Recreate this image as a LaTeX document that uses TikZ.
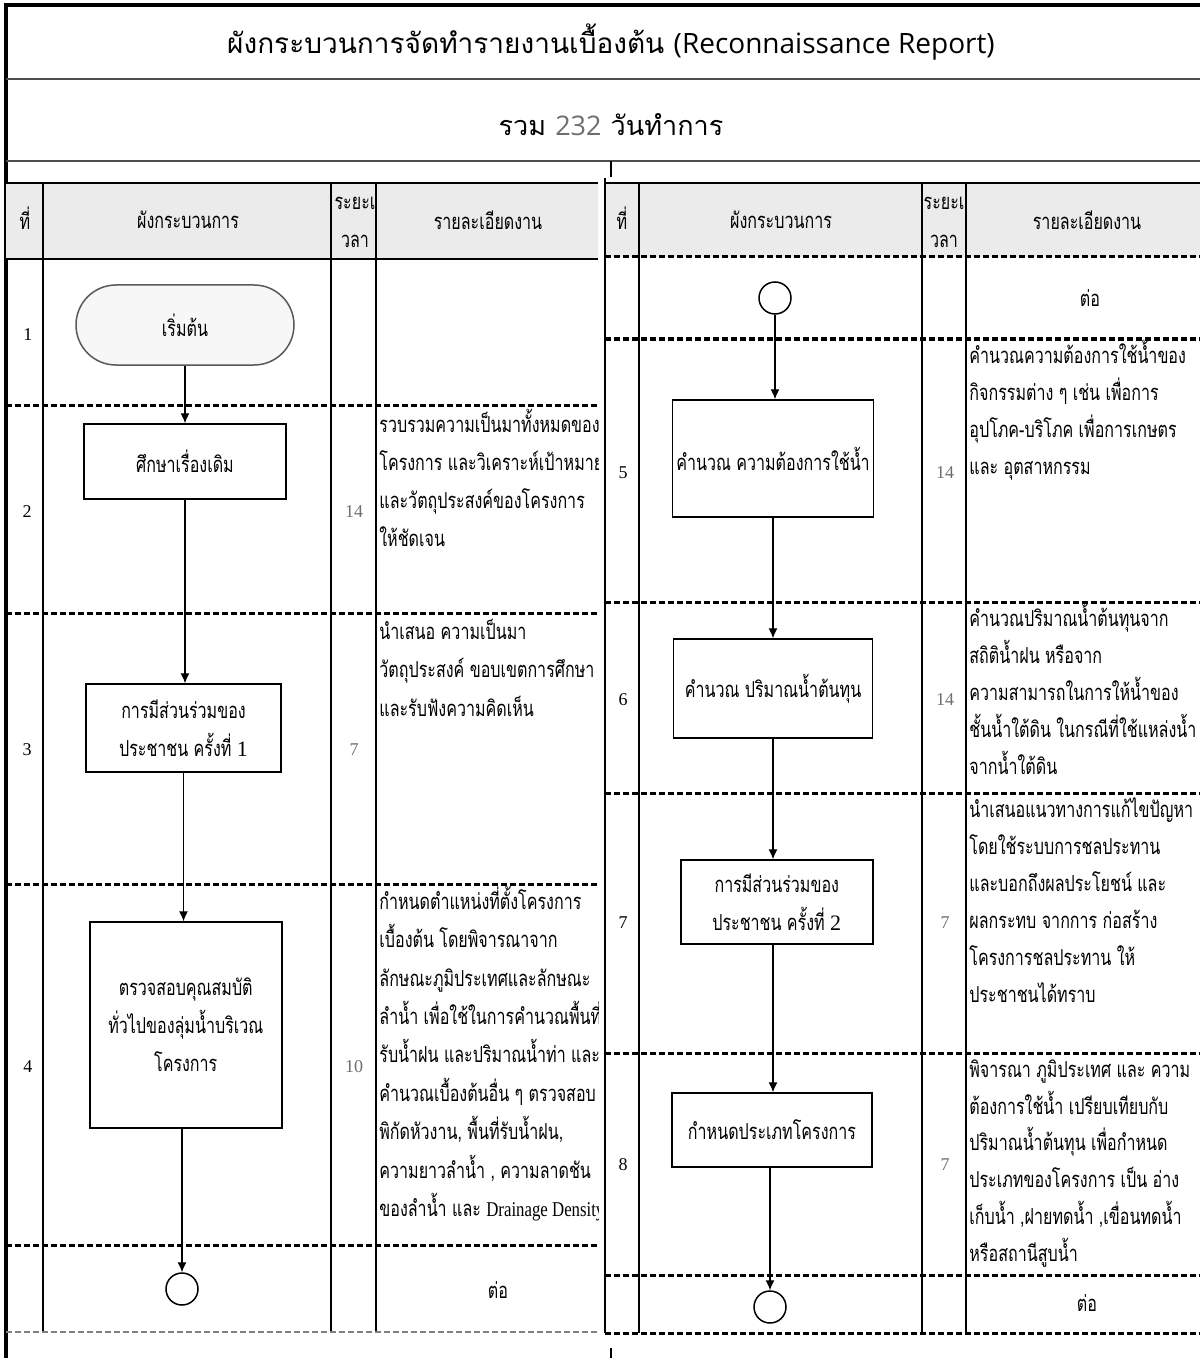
\documentclass[tikz,border=0pt]{standalone}
\usepackage{fontspec}
\usetikzlibrary{arrows.meta}

% Thai text: body text is condensed, headings at natural width
\newfontfamily\thaibody[Script=Thai,FakeStretch=0.73]{Loma}
\newfontfamily\thaititle[Script=Thai]{Loma}
\newfontfamily\serifnum{Liberation Serif}
\newfontfamily\serifcond[FakeStretch=0.8]{Liberation Serif}
\newfontfamily\sanslatin{Open Sans}

\definecolor{headgray}{HTML}{EBEBEB}
\definecolor{rulegray}{HTML}{4D4D4D}
\definecolor{numgray}{HTML}{6E6E6E}

% one node per printed line of a detail cell
\newcommand\detaillines[5]{%
  \foreach \t [count=\i from 0] in {#4} {
    \node[detail] (#5-\i) at (#1, {#2+#3*\i}) {\t};
  }%
}

\begin{document}
\begin{tikzpicture}[x=0.5pt,y=-0.5pt,
  thaitext/.style={font=\thaibody\fontsize{11pt}{19pt}\selectfont},
  proc/.style={draw, line width=0.75pt, fill=white, align=center, inner sep=2pt, thaitext},
  term/.style={proc, rounded corners=20pt, fill=gray!6, draw=black!65},
  conn/.style={circle, draw, line width=0.75pt, minimum size=16pt, inner sep=0pt},
  flow/.style={-{Latex[length=5pt,width=4.5pt]}, line width=0.6pt},
  detail/.style={anchor=mid west, inner sep=0pt, thaitext},
  rowno/.style={inner sep=0pt, font=\serifnum\fontsize{9pt}{10pt}\selectfont},
  days/.style={rowno, text=numgray},
  headtxt/.style={inner sep=0pt, thaitext},
  vrule/.style={line width=0.8pt},
  rowsep/.style={line width=1.5pt, dash pattern=on 3pt off 1.5pt},
]
\useasboundingbox (0,0) rectangle (1200,1358);

% ---------- title block ----------
\draw[line width=2pt] (6,1358) -- (6,5) -- (1200,5);
\node (title) at (611,42) {\thaititle\fontsize{14pt}{17pt}\selectfont
  ผังกระบวนการจัดทำรายงานเบื้องต้น {\sanslatin (Reconnaissance Report)}};
\draw[line width=1.3pt, rulegray] (6,79) -- (1200,79);
\node (total) at (611,125) {\thaititle\fontsize{13.5pt}{17pt}\selectfont
  รวม {\sanslatin\color{numgray}232} วันทำการ};
\draw[line width=1.3pt, rulegray] (6,161) -- (1200,161);
\draw[vrule] (611,161) -- (611,177);
\draw[vrule] (611,1348) -- (611,1358);

% ---------- left table grid ----------
\fill[headgray] (6,183) rectangle (598,259);
\draw[vrule] (6,183) -- (598,183);
\draw[vrule] (6,259) -- (598,259);
\foreach \x in {43,331,376} \draw[vrule] (\x,183) -- (\x,1332);
\foreach \y in {405,613,884,1245} \draw[rowsep] (6,\y) -- (598,\y);
\draw[line width=0.8pt, gray, dash pattern=on 3pt off 1.5pt] (6,1332) -- (598,1332);

% ---------- right table grid ----------
\fill[headgray] (605,183) rectangle (1200,257);
\draw[vrule] (605,183) -- (1200,183);
\draw[vrule] (605,178) -- (605,1333);
\foreach \x in {639,922,966} \draw[vrule] (\x,183) -- (\x,1333);
\foreach \y in {257,339,602,793,1053,1275,1333} \draw[rowsep] (605,\y) -- (1200,\y);

% ---------- headers ----------
\node[headtxt] (hl1) at (25,218) {ที่};
\node[headtxt] (hl2) at (188,220) {ผังกระบวนการ};
\node[headtxt] (hl3) at (355,203) {ระยะเ};
\node[headtxt] (hl4) at (355,241) {วลา};
\node[headtxt] (hl5) at (488,220) {รายละเอียดงาน};
\node[headtxt] (hr1) at (622,218) {ที่};
\node[headtxt] (hr2) at (781,220) {ผังกระบวนการ};
\node[headtxt] (hr3) at (944,203) {ระยะเ};
\node[headtxt] (hr4) at (944,241) {วลา};
\node[headtxt] (hr5) at (1087,220) {รายละเอียดงาน};

% ---------- left flow ----------
\node[term, minimum width=109pt, minimum height=40pt] (start) at (185,325) {เริ่มต้น};
\node[proc, minimum width=101pt, minimum height=37.5pt] (s2) at (185,461.5) {ศึกษาเรื่องเดิม};
\node[proc, minimum width=97.5pt, minimum height=44pt] (s3) at (183.5,728)
  {การมีส่วนร่วมของ\\ประชาชน ครั้งที่ {\serifnum 1}};
\node[proc, minimum width=96pt, minimum height=103pt] (s4) at (185.75,1025)
  {ตรวจสอบคุณสมบัติ\\ทั่วไปของลุ่มน้ำบริเวณ\\โครงการ};
\node[conn] (c1) at (182,1289) {};

\draw[flow] (start.south) -- (start.south |- s2.north);
\draw[flow] (s2.south) -- (s2.south |- s3.north);
\draw[flow] (s3.south) -- (s3.south |- s4.north);
\draw[flow] (s4.south -| c1) -- (c1.north);

% ---------- right flow ----------
\node[conn] (c2) at (775,298) {};
\node[proc, minimum width=99.5pt, minimum height=58.5pt] (s5) at (773,458.5) {คำนวณ ความต้องการใช้น้ำ};
\node[proc, minimum width=99.5pt, minimum height=49.5pt] (s6) at (773,688.5) {คำนวณ ปริมาณน้ำต้นทุน};
\node[proc, minimum width=96pt, minimum height=42pt] (s7) at (776.75,902)
  {การมีส่วนร่วมของ\\ประชาชน ครั้งที่ {\serifnum 2}};
\node[proc, minimum width=100pt, minimum height=37pt] (s8) at (772,1130) {กำหนดประเภทโครงการ};
\node[conn] (c3) at (770,1307) {};

\draw[flow] (c2.south) -- (c2.south |- s5.north);
\draw[flow] (s5.south) -- (s5.south |- s6.north);
\draw[flow] (s6.south) -- (s6.south |- s7.north);
\draw[flow] (s7.south -| s6.south) -- (s6.south |- s8.north);
\draw[flow] (s8.south -| c3) -- (c3.north);

% ---------- row numbers and durations ----------
\node[rowno] (n1) at (28,335) {1};
\node[rowno] (n2) at (27,512) {2};
\node[rowno] (n3) at (27,750) {3};
\node[rowno] (n4) at (28,1067) {4};
\node[days] (d2) at (354,512) {14};
\node[days] (d3) at (354,750) {7};
\node[days] (d4) at (354,1067) {10};

\node[rowno] (n5) at (623,473) {5};
\node[rowno] (n6) at (623,700) {6};
\node[rowno] (n7) at (623,923) {7};
\node[rowno] (n8) at (623,1165) {8};
\node[days] (d5) at (945,473) {14};
\node[days] (d6) at (945,700) {14};
\node[days] (d7) at (945,923) {7};
\node[days] (d8) at (945,1165) {7};

% ---------- detail cells ----------
\begin{scope}
\clip (376,259) rectangle (598,1332);
\detaillines{379}{428}{38}{รวบรวมความเป็นมาทั้งหมดของ,
  โครงการ และวิเคราะห์เป้าหมาย,
  และวัตถุประสงค์ของโครงการ,
  ให้ชัดเจน}{t2}
\detaillines{379}{635}{38.5}{นำเสนอ ความเป็นมา,
  วัตถุประสงค์ ขอบเขตการศึกษา,
  และรับฟังความคิดเห็น}{t3}
\detaillines{379}{905}{38.4}{กำหนดตำแหน่งที่ตั้งโครงการ,
  เบื้องต้น โดยพิจารณาจาก,
  ลักษณะภูมิประเทศและลักษณะ,
  ลำน้ำ เพื่อใช้ในการคำนวณพื้นที่,
  รับน้ำฝน และปริมาณน้ำท่า และ,
  คำนวณเบื้องต้นอื่น ๆ ตรวจสอบ,
  {พิกัดหัวงาน, พื้นที่รับน้ำฝน,},
  {ความยาวลำน้ำ , ความลาดชัน},
  ของลำน้ำ และ {\serifcond\fontsize{10.5pt}{19pt}\selectfont Drainage Density}}{t4}
\end{scope}
\node[headtxt] (tl) at (498,1290) {ต่อ};

\node[headtxt] (tr0) at (1090,298) {ต่อ};
\detaillines{969}{359}{37}{คำนวณความต้องการใช้น้ำของ,
  กิจกรรมต่าง ๆ เช่น เพื่อการ,
  อุปโภค-บริโภค เพื่อการเกษตร,
  และ อุตสาหกรรม}{t5}
\detaillines{969}{622}{37}{คำนวณปริมาณน้ำต้นทุนจาก,
  สถิติน้ำฝน หรือจาก,
  ความสามารถในการให้น้ำของ,
  ชั้นน้ำใต้ดิน ในกรณีที่ใช้แหล่งน้ำ,
  จากน้ำใต้ดิน}{t6}
\detaillines{969}{813}{37}{นำเสนอแนวทางการแก้ไขปัญหา,
  โดยใช้ระบบการชลประทาน,
  และบอกถึงผลประโยชน์ และ,
  ผลกระทบ จากการ ก่อสร้าง,
  โครงการชลประทาน ให้,
  ประชาชนได้ทราบ}{t7}
\detaillines{969}{1073}{36.8}{พิจารณา ภูมิประเทศ และ ความ,
  ต้องการใช้น้ำ เปรียบเทียบกับ,
  ปริมาณน้ำต้นทุน เพื่อกำหนด,
  ประเภทของโครงการ เป็น อ่าง,
  {เก็บน้ำ ,ฝายทดน้ำ ,เขื่อนทดน้ำ},
  หรือสถานีสูบน้ำ}{t8}
\node[headtxt] (tr9) at (1087,1303) {ต่อ};

\end{tikzpicture}
\end{document}
